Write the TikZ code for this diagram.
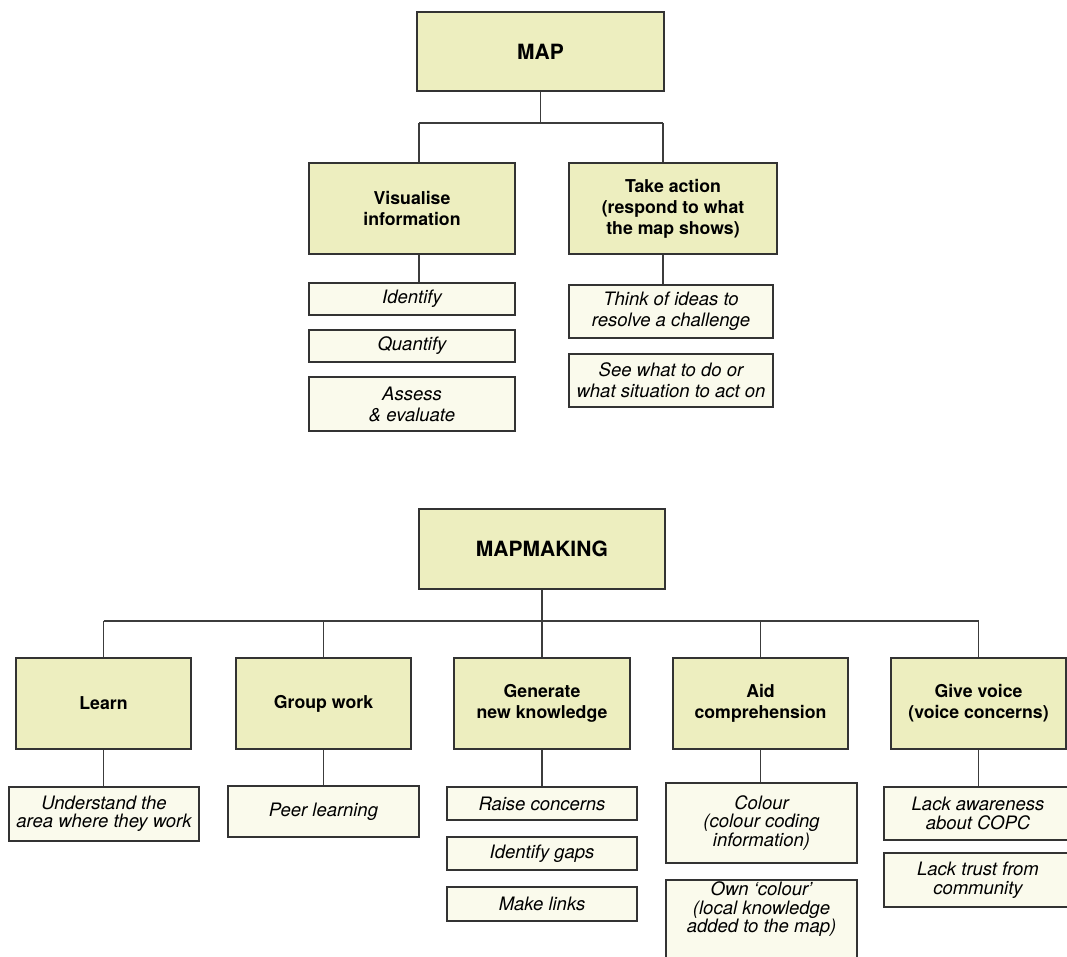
\documentclass[tikz,border=0pt]{standalone}
\usepackage{fontspec}
\setmainfont{TeX Gyre Heros}
\definecolor{headfill}{HTML}{EDEEBF}
\definecolor{itemfill}{HTML}{FAFAEC}
\definecolor{boxline}{HTML}{333333}
\definecolor{linkcol}{HTML}{3C3C3C}
\begin{document}
\begin{tikzpicture}[x=1pt,y=-1pt,
  box/.style={draw=boxline, line width=1.6pt, inner sep=0pt, align=center, anchor=center},
  headbox/.style={box, fill=headfill, font=\fontsize{21}{25}\selectfont\bfseries},
  subbox/.style={box, fill=headfill, font=\fontsize{17.7}{21}\selectfont\bfseries},
  itembox/.style={box, fill=itemfill, font=\fontsize{18.5}{21}\selectfont\itshape},
  itemtight/.style={itembox, font=\fontsize{18.5}{18.5}\selectfont\itshape},
  itemtext/.style={align=center, inner sep=0pt, font=\fontsize{18.5}{18.5}\selectfont\itshape},
  link/.style={draw=linkcol, line width=1.9pt}]

% page frame
\path[use as bounding box] (0,0) rectangle (1067,956);
\clip (0,0) rectangle (1067,956);

% ---------------- MAP ----------------
\node[headbox, minimum width=247pt, minimum height=79pt] (map) at (540.5,51.5) {MAP};

\node[subbox, minimum width=206pt, minimum height=91pt] (vis) at (412,208.5)
  {Visualise\\information};
\node[subbox, minimum width=208pt, minimum height=91pt] (act) at (673,208.5)
  {Take action\\(respond to what\\the map shows)};

\node[itembox, minimum width=206pt, minimum height=32pt] (ident)  at (412,299) {Identify};
\node[itembox, minimum width=206pt, minimum height=32pt] (quant)  at (412,346) {Quantify};
\node[itembox, minimum width=206pt, minimum height=54pt] (assess) at (412,404) {Assess\\\& evaluate};

\node[itembox, minimum width=204pt, minimum height=53pt] (think) at (671,311.5)
  {Think of ideas to\\resolve a challenge};
\node[itembox, minimum width=204pt, minimum height=53pt] (see) at (671,380.5)
  {See what to do or\\what situation to act on};

\coordinate (busTL) at (419,123);
\coordinate (busTR) at (663,123);
\draw[link] (map.south) -- (map.south |- busTL);
\draw[link] (busTL) -- (busTR);
\draw[link] (busTL) -- (busTL |- vis.north);
\draw[link] (busTR) -- (busTR |- act.north);
\draw[link] (busTL |- vis.south) -- (busTL |- ident.north);
\draw[link] (busTR |- act.south) -- (busTR |- think.north);

% ---------------- MAPMAKING ----------------
\node[headbox, minimum width=246pt, minimum height=80pt] (mm) at (542,549) {MAPMAKING};

\node[subbox, minimum width=175pt, minimum height=91pt] (learn) at (103.5,703.5) {Learn};
\node[subbox, minimum width=175pt, minimum height=91pt] (group) at (323.5,703.5) {Group work};
\node[subbox, minimum width=176pt, minimum height=91pt] (gen)   at (542,703.5) {Generate\\new knowledge};
\node[subbox, minimum width=175pt, minimum height=91pt] (aid)   at (760.5,703.5) {Aid\\comprehension};
\node[subbox, minimum width=175pt, minimum height=91pt] (give)  at (978.5,703.5) {Give voice\\(voice concerns)};

\node[itemtight, minimum width=190pt, minimum height=54pt] (under) at (104,814)
  {Understand the\\area where they work};
\node[itemtight, minimum width=191pt, minimum height=51pt] (peer) at (323.5,811.5) {Peer learning};

\node[itemtight, minimum width=190pt, minimum height=33pt] (raise) at (542,803.5) {Raise concerns};
\node[itemtight, minimum width=190pt, minimum height=33pt] (gaps)  at (542,853.5) {Identify gaps};
\node[itemtight, minimum width=190pt, minimum height=34pt] (links) at (542,904) {Make links};

\node[itemtight, minimum width=191pt, minimum height=80pt] (colour) at (761.5,823)
  {Colour\\(colour coding\\information)};
\node[itembox, minimum width=191pt, minimum height=82pt] (ownc) at (761.5,921) {};
\node[itemtext] (ownctext) at ([yshift=-30pt]ownc.north)
  {Own ‘colour’\\(local knowledge\\added to the map)};

\node[itemtight, minimum width=188pt, minimum height=53pt] (aware) at (978,813.5)
  {Lack awareness\\about COPC};
\node[itemtight, minimum width=188pt, minimum height=54pt] (trust) at (978,880)
  {Lack trust from\\community};

\coordinate (busB) at (0,621);
\draw[link] (mm.south) -- (mm.south |- busB);
\draw[link] (learn.north |- busB) -- (give.north |- busB);
\foreach \n in {learn,group,gen,aid,give}
  \draw[link] (\n.north) -- (\n.north |- busB);
\draw[link] (learn.south) -- (learn.south |- under.north);
\draw[link] (group.south) -- (group.south |- peer.north);
\draw[link] (gen.south)   -- (gen.south |- raise.north);
\draw[link] (aid.south)   -- (aid.south |- colour.north);
\draw[link] (give.south)  -- (give.south |- aware.north);
\end{tikzpicture}
\end{document}
